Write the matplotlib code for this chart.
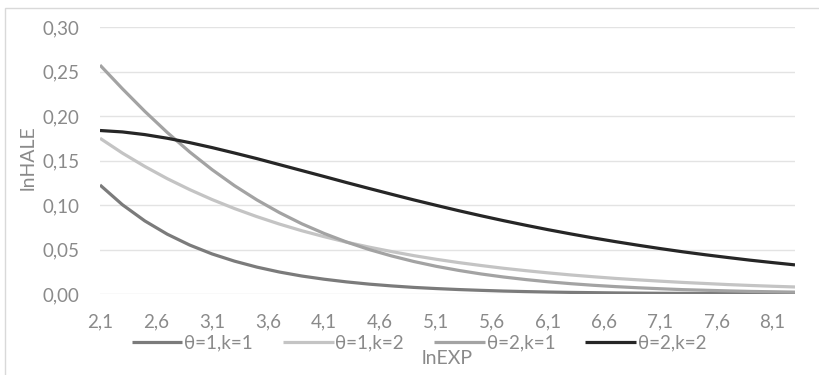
import matplotlib.pyplot as plt
from matplotlib.patches import Rectangle

# lnEXP grid (step 0.2)
ln_exp = [2.1, 2.3, 2.5, 2.7, 2.9, 3.1, 3.3, 3.5, 3.7, 3.9, 4.1, 4.3, 4.5, 4.7, 4.9, 5.1,
          5.3, 5.5, 5.7, 5.9, 6.1, 6.3, 6.5, 6.7, 6.9, 7.1, 7.3, 7.5, 7.7, 7.9, 8.1, 8.3]

# lnHALE curves
hale_t1_k1 = [0.1225, 0.1003, 0.0821, 0.0672, 0.0550, 0.0450, 0.0369, 0.0302, 0.0247, 0.0202,
              0.0166, 0.0136, 0.0111, 0.0091, 0.0074, 0.0061, 0.0050, 0.0041, 0.0033, 0.0027,
              0.0022, 0.0018, 0.0015, 0.0012, 0.0010, 0.0008, 0.0007, 0.0006, 0.0005, 0.0004,
              0.0003, 0.0002]
hale_t1_k2 = [0.1750, 0.1583, 0.1433, 0.1296, 0.1173, 0.1061, 0.0960, 0.0869, 0.0786, 0.0711,
              0.0644, 0.0582, 0.0527, 0.0477, 0.0431, 0.0390, 0.0353, 0.0320, 0.0289, 0.0262,
              0.0237, 0.0214, 0.0194, 0.0175, 0.0159, 0.0144, 0.0130, 0.0118, 0.0106, 0.0096,
              0.0087, 0.0079]
hale_t2_k1 = [0.2572, 0.2306, 0.2052, 0.1815, 0.1596, 0.1397, 0.1217, 0.1057, 0.0915, 0.0789,
              0.0680, 0.0584, 0.0500, 0.0428, 0.0365, 0.0311, 0.0265, 0.0225, 0.0191, 0.0162,
              0.0137, 0.0116, 0.0098, 0.0083, 0.0070, 0.0059, 0.0049, 0.0042, 0.0035, 0.0029,
              0.0025, 0.0021]
hale_t2_k2 = [0.1837, 0.1821, 0.1791, 0.1750, 0.1701, 0.1645, 0.1584, 0.1521, 0.1454, 0.1387,
              0.1320, 0.1252, 0.1186, 0.1121, 0.1057, 0.0996, 0.0936, 0.0879, 0.0824, 0.0772,
              0.0722, 0.0675, 0.0630, 0.0588, 0.0548, 0.0510, 0.0474, 0.0441, 0.0410, 0.0380,
              0.0353, 0.0327]

series_labels = ["θ=1,k=1", "θ=1,k=2", "θ=2,k=1", "θ=2,k=2"]
series_colors = ["#7b7b7b", "#c4c4c4", "#a3a3a3", "#262626"]

x_ticks = [2.1, 2.6, 3.1, 3.6, 4.1, 4.6, 5.1, 5.6, 6.1, 6.6, 7.1, 7.6, 8.1]
y_ticks = [0.00, 0.05, 0.10, 0.15, 0.20, 0.25, 0.30]

plt.rcParams['font.family'] = ['Lato', 'DejaVu Sans']
txt_color = "#8a8a8a"

fig = plt.figure(figsize=(8.19, 3.75), dpi=100)
ax = fig.add_axes([100 / 819, 1 - 294 / 375, 695 / 819, 267 / 375])

# chart-area frame
fig.patches.append(Rectangle((5 / 819, -0.1), 1.2, 1.1 - 8 / 375,
                             transform=fig.transFigure, fill=False,
                             edgecolor="#d9d9d9", lw=1.0))

for ys, lab, col in zip([hale_t1_k1, hale_t1_k2, hale_t2_k1, hale_t2_k2],
                        series_labels, series_colors):
    ax.plot(ln_exp, ys, color=col, lw=2.3, label=lab, solid_capstyle='butt')

ax.set_xlim(2.1, 8.3)
ax.set_ylim(0, 0.30)
ax.set_xticks(x_ticks)
ax.set_xticklabels([f"{v:.1f}".replace(".", ",") for v in x_ticks])
ax.set_yticks(y_ticks)
ax.set_yticklabels([f"{v:.2f}".replace(".", ",") for v in y_ticks])
ax.tick_params(axis='both', length=0, labelsize=13.5, colors=txt_color)
ax.tick_params(axis='y', pad=15)
ax.tick_params(axis='x', pad=14)
ax.yaxis.grid(True, color="#e3e3e3", lw=1.0)
ax.set_axisbelow(True)
for sp in ax.spines.values():
    sp.set_visible(False)

fig.text(28 / 819, 1 - 158 / 375, "lnHALE", rotation=90, ha='center', va='center',
         fontsize=14, color=txt_color)
fig.text(447 / 819, 1 - 358 / 375, "lnEXP", ha='center', va='center',
         fontsize=14, color=txt_color)

fig.legend(loc='center', bbox_to_anchor=(419 / 819, 1 - 343 / 375), ncol=4,
           frameon=False, fontsize=13.5, labelcolor=txt_color, handlelength=2.7,
           handletextpad=0.1, columnspacing=1.6, borderpad=0)

fig.savefig("out.png", dpi=100)
